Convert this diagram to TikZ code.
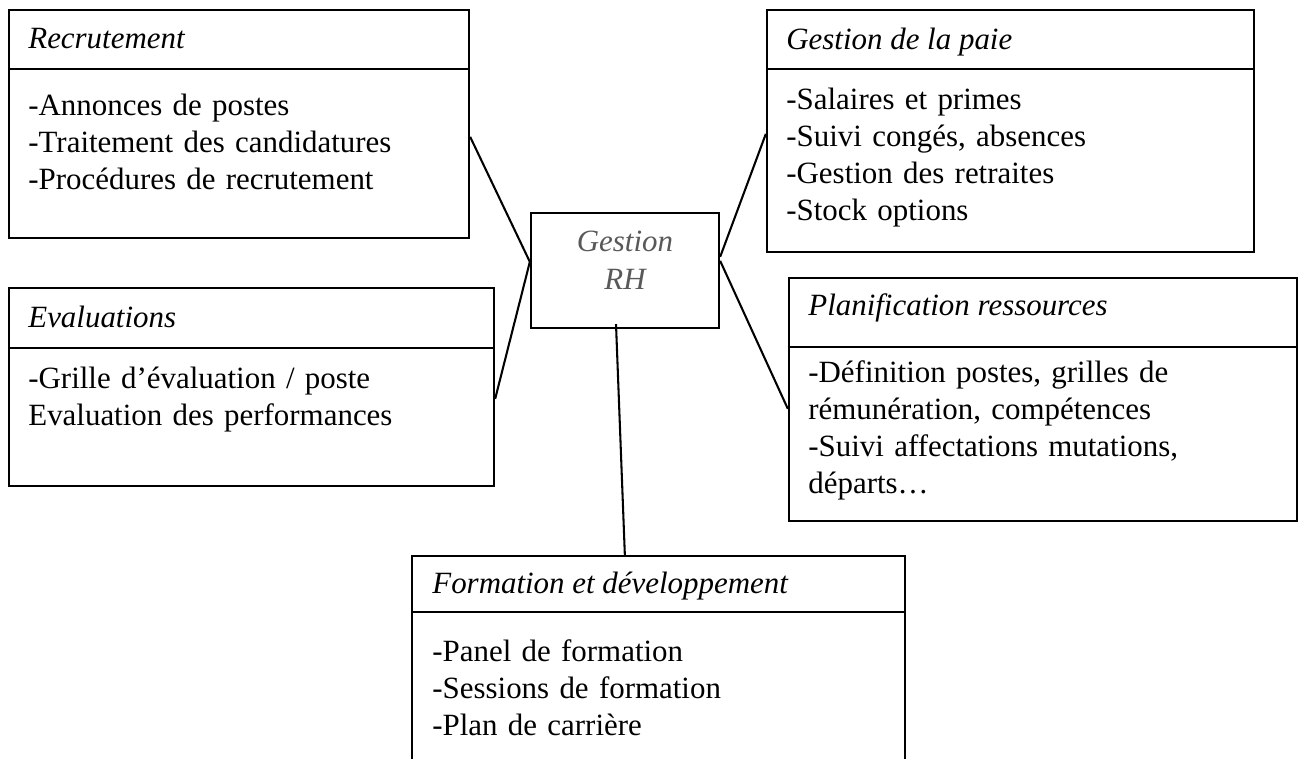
\documentclass[tikz,border=0pt]{standalone}
\usepackage{fontspec}
\setmainfont{Liberation Serif}
\usepackage{tikz}
\usetikzlibrary{calc,fit}
\usepackage{xcolor}
\definecolor{hubgray}{RGB}{89,89,89}

\tikzset{
  panel/.style={draw, line width=0.9pt, inner sep=0pt},
  heading/.style={anchor=base west, inner sep=0pt, font=\fontsize{12}{14.4}\selectfont\itshape},
  items/.style={anchor=base west, inner sep=0pt, text width=230pt, align=left, font=\fontsize{12}{14.36}\selectfont},
  hubtext/.style={inner sep=0pt, align=center, text=hubgray, font=\fontsize{12}{14.7}\selectfont\itshape},
  link/.style={line width=0.8pt}
}

\begin{document}
\begin{tikzpicture}[x=0.388pt, y=-0.388pt]
    \useasboundingbox (0,0) rectangle (1304,758);
    \clip (0,0) rectangle (1304,758);

    \node[panel, fit={(531,213) (719,328)}] (rh) {};
    \node[hubtext] (rh-t) at ($(rh.center)+(0,-10)$) {Gestion\\RH};

    \node[panel, fit={(9,10) (469,238)}] (recrut) {};
    \draw[panel] ($(recrut.north west)+(0,60)$) -- ($(recrut.north east)+(0,60)$);
    \node[heading] (recrut-t) at ($(recrut.north west)+(20,40)$) {Recrutement};
    \node[items] (recrut-b) at ($(recrut.north west)+(20,107)$)
        {-Annonces de postes\\-Traitement des candidatures\\-Procédures de recrutement};

    \node[panel, fit={(9,288) (494,486)}] (eval) {};
    \draw[panel] ($(eval.north west)+(0,61)$) -- ($(eval.north east)+(0,61)$);
    \node[heading] (eval-t) at ($(eval.north west)+(20,41)$) {Evaluations};
    \node[items] (eval-b) at ($(eval.north west)+(20,102)$)
        {-Grille d’évaluation / poste\\Evaluation des performances};

    \node[panel, fit={(767,10) (1254,252)}] (paie) {};
    \draw[panel] ($(paie.north west)+(0,60)$) -- ($(paie.north east)+(0,60)$);
    \node[heading] (paie-t) at ($(paie.north west)+(20,41)$) {Gestion de la paie};
    \node[items] (paie-b) at ($(paie.north west)+(20,101)$)
        {-Salaires et primes\\-Suivi congés, absences\\-Gestion des retraites\\-Stock options};

    \node[panel, fit={(789,278) (1297,521)}] (planif) {};
    \draw[panel] ($(planif.north west)+(0,70)$) -- ($(planif.north east)+(0,70)$);
    \node[heading] (planif-t) at ($(planif.north west)+(20,39)$) {Planification ressources};
    \node[items] (planif-b) at ($(planif.north west)+(20,106)$)
        {-Définition postes, grilles de\\rémunération, compétences\\-Suivi affectations mutations,\\départs…};

    \node[panel, fit={(412,556) (905,780)}] (form) {};
    \draw[panel] ($(form.north west)+(0,57)$) -- ($(form.north east)+(0,57)$);
    \node[heading] (form-t) at ($(form.north west)+(21,39)$) {Formation et développement};
    \node[items] (form-b) at ($(form.north west)+(21,107)$)
        {-Panel de formation\\-Sessions de formation\\-Plan de carrière};

    \draw[link] ($(recrut.north east)+(0,128)$) -- ($(rh.north west)+(0,50)$);
    \draw[link] ($(eval.north east)+(0,112)$) -- ($(rh.north west)+(0,50)$);
    \draw[link] ($(paie.north west)+(0,125)$) -- ($(rh.north east)+(0,45)$);
    \draw[link] ($(rh.north east)+(0,49)$) -- ($(planif.north west)+(0,132)$);
    \draw[link] ($(rh.south)+(-9,-5)$) -- ($(form.north west)+(214,0)$);
\end{tikzpicture}
\end{document}
